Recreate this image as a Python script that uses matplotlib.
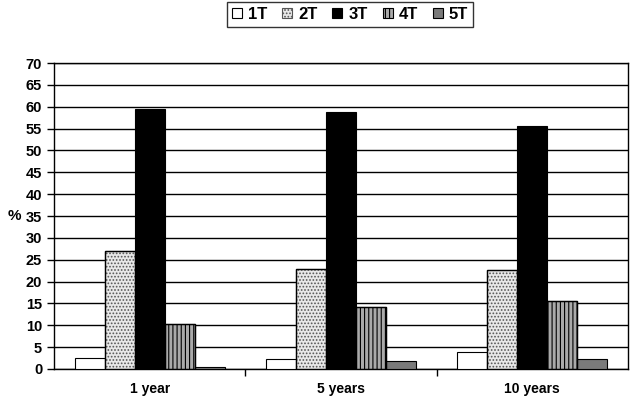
import matplotlib
matplotlib.use("Agg")
import matplotlib.pyplot as plt
import numpy as np

categories = ["1 year", "5 years", "10 years"]
series = ["1T", "2T", "3T", "4T", "5T"]
v1T = [2.5, 2.3, 3.8]
v2T = [27.0, 22.8, 22.6]
v3T = [59.5, 58.7, 55.7]
v4T = [10.3, 14.2, 15.5]
v5T = [0.4, 1.9, 2.3]
values = [v1T, v2T, v3T, v4T, v5T]

plt.rcParams['font.family'] = ['Liberation Sans', 'DejaVu Sans']
plt.rcParams['font.weight'] = 'bold'
plt.rcParams['hatch.linewidth'] = 0.8

fig = plt.figure(figsize=(6.4, 4.03), dpi=100)
ax = fig.add_axes([54/640, 1-369/403, (628-54)/640, (369-63)/403])

styles = [
    dict(facecolor='white', hatch=None, edgecolor='black'),
    dict(facecolor='#e8e8e8', hatch='.....', edgecolor='#555555'),
    dict(facecolor='black', hatch=None, edgecolor='black'),
    dict(facecolor='#aaaaaa', hatch='||||', edgecolor='black'),
    dict(facecolor='#7a7a7a', hatch=None, edgecolor='black'),
]

x = np.arange(len(categories))
w = 0.157
for i, (name, vals, st) in enumerate(zip(series, values, styles)):
    pos = x + (i - 2) * w
    ax.bar(pos, vals, width=w, facecolor=st['facecolor'], hatch=st['hatch'],
           edgecolor=st['edgecolor'], linewidth=0.8, label=name, zorder=3)
    if st['hatch'] is not None:
        ax.bar(pos, vals, width=w, facecolor='none', edgecolor='black', linewidth=1.0, zorder=4)

ax.set_xlim(-0.5, 2.5)
ax.set_ylim(0, 70)
ax.set_yticks(np.arange(0, 71, 5))
ax.yaxis.grid(True, color='black', linewidth=1.0, zorder=0)
ax.set_axisbelow(True)
ax.set_xticks(x)
ax.set_xticklabels(categories, fontsize=10, fontweight='bold')
ax.tick_params(axis='x', length=0, pad=9)
ax.set_xticks([0.5, 1.5], minor=True)
ax.tick_params(axis='x', which='minor', length=5, width=1, direction='out')
ax.tick_params(axis='y', length=5, width=1, direction='out', labelsize=10.5)
for lab in ax.get_yticklabels():
    lab.set_fontweight('bold')
for s in ax.spines.values():
    s.set_linewidth(1.0)
ax.set_ylabel('%', rotation=0, fontsize=11, fontweight='bold', labelpad=8, va='center')

handles, labels = ax.get_legend_handles_labels()
leg = fig.legend(handles, labels, loc='upper center', bbox_to_anchor=(350/640, 1 - 2/403), ncol=5,
                 frameon=True, fancybox=False, edgecolor='black', fontsize=12,
                 handlelength=0.6, handleheight=0.6, handletextpad=0.35, columnspacing=0.9,
                 borderpad=0.3, borderaxespad=0)
leg.get_frame().set_linewidth(1.0)

fig.savefig('out.png', dpi=100)
